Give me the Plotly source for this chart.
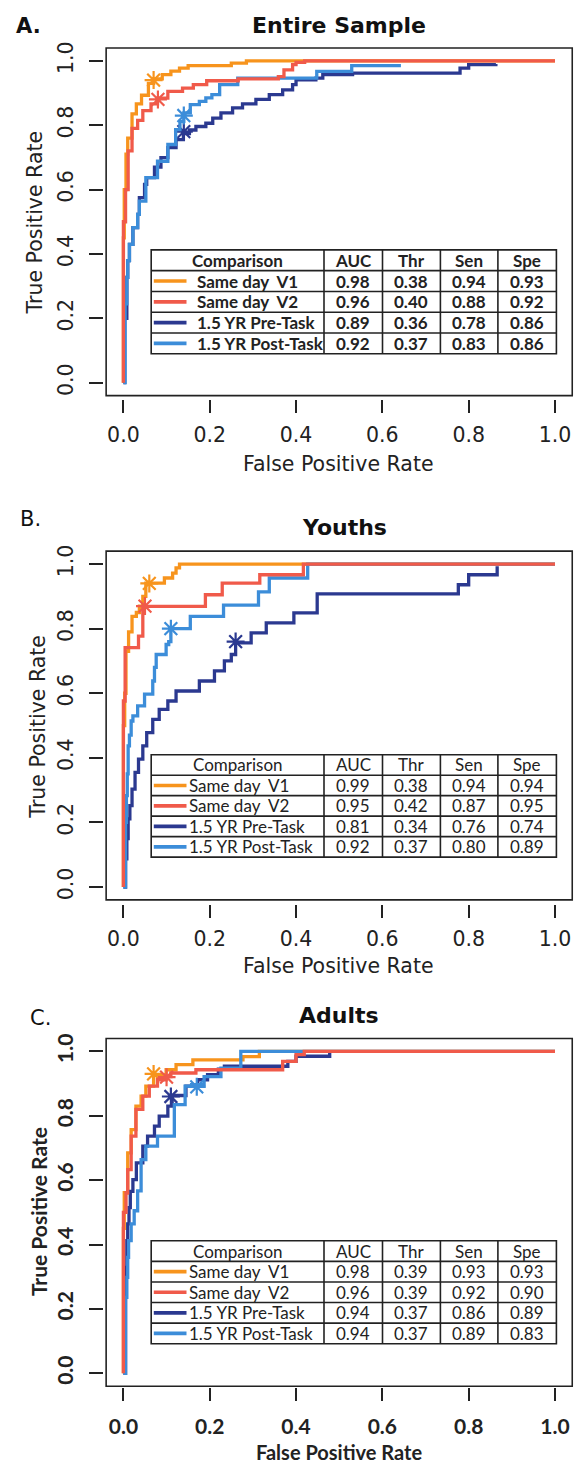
import plotly.graph_objects as go

W, H = 574, 1466

# ---------------- data ----------------
SERIES = ["Same day\u00a0 V1", "Same day\u00a0 V2", "1.5 YR Pre-Task", "1.5 YR Post-Task"]
HEADERS = ["Comparison", "AUC", "Thr", "Sen", "Spe"]
PANEL_LETTERS = ["A.", "B.", "C."]
PANEL_TITLES = ["Entire Sample", "Youths", "Adults"]
TICK_VALS = [0.0, 0.2, 0.4, 0.6, 0.8, 1.0]
TICK_TEXT = ["0.0", "0.2", "0.4", "0.6", "0.8", "1.0"]

# Panel A: Entire sample
A_V1_FPR = [0.000, 0.000, 0.002, 0.006, 0.010, 0.020, 0.030, 0.042, 0.058, 0.070, 0.090, 0.110, 0.130, 0.150, 0.250, 0.285, 1.000]
A_V1_TPR = [0.000, 0.450, 0.600, 0.710, 0.760, 0.835, 0.866, 0.893, 0.930, 0.944, 0.957, 0.968, 0.977, 0.985, 0.993, 1.000, 1.000]
A_V2_FPR = [0.000, 0.000, 0.005, 0.011, 0.020, 0.033, 0.045, 0.064, 0.079, 0.103, 0.137, 0.162, 0.193, 0.266, 0.359, 0.372, 0.392, 0.400, 0.420, 1.000]
A_V2_TPR = [0.000, 0.500, 0.600, 0.720, 0.790, 0.815, 0.845, 0.866, 0.884, 0.905, 0.915, 0.926, 0.938, 0.944, 0.951, 0.972, 0.988, 0.995, 1.000, 1.000]
A_PRE_FPR = [0.000, 0.003, 0.008, 0.010, 0.014, 0.022, 0.033, 0.037, 0.049, 0.054, 0.072, 0.087, 0.103, 0.122, 0.139, 0.153, 0.168, 0.191, 0.207, 0.226, 0.253, 0.276, 0.307, 0.338, 0.369, 0.392, 0.400, 0.446, 0.462, 0.531, 0.780, 0.800, 0.863]
A_PRE_TPR = [0.000, 0.200, 0.327, 0.379, 0.430, 0.482, 0.523, 0.575, 0.616, 0.637, 0.670, 0.699, 0.730, 0.755, 0.774, 0.785, 0.796, 0.806, 0.822, 0.838, 0.854, 0.866, 0.880, 0.895, 0.910, 0.926, 0.941, 0.946, 0.957, 0.962, 0.977, 0.988, 0.990]
A_POST_FPR = [0.000, 0.004, 0.008, 0.010, 0.014, 0.022, 0.033, 0.037, 0.052, 0.079, 0.103, 0.121, 0.131, 0.140, 0.155, 0.176, 0.191, 0.205, 0.223, 0.265, 0.448, 0.529, 0.643]
A_POST_TPR = [0.000, 0.245, 0.327, 0.379, 0.430, 0.482, 0.523, 0.564, 0.637, 0.688, 0.740, 0.786, 0.812, 0.838, 0.864, 0.874, 0.885, 0.895, 0.926, 0.946, 0.967, 0.985, 0.985]
A_AUC = [0.98, 0.96, 0.89, 0.92]
A_THR = [0.38, 0.40, 0.36, 0.37]
A_SEN = [0.94, 0.88, 0.78, 0.83]
A_SPE = [0.93, 0.92, 0.86, 0.86]

# Panel B: Youths
B_V1_FPR = [0.000, 0.000, 0.003, 0.006, 0.012, 0.020, 0.030, 0.037, 0.045, 0.052, 0.095, 0.114, 0.122, 0.130, 1.000]
B_V1_TPR = [0.000, 0.500, 0.600, 0.730, 0.790, 0.838, 0.850, 0.870, 0.900, 0.941, 0.957, 0.972, 0.988, 1.000, 1.000]
B_V2_FPR = [0.000, 0.000, 0.004, 0.035, 0.045, 0.190, 0.229, 0.316, 0.417, 1.000]
B_V2_TPR = [0.000, 0.576, 0.741, 0.777, 0.869, 0.905, 0.941, 0.967, 1.000, 1.000]
B_PRE_FPR = [0.000, 0.005, 0.008, 0.011, 0.015, 0.020, 0.027, 0.035, 0.045, 0.054, 0.068, 0.083, 0.103, 0.122, 0.176, 0.211, 0.234, 0.250, 0.260, 0.296, 0.331, 0.395, 0.449, 0.776, 0.800, 0.866]
B_PRE_TPR = [0.000, 0.087, 0.150, 0.211, 0.252, 0.303, 0.355, 0.396, 0.437, 0.478, 0.519, 0.550, 0.576, 0.607, 0.638, 0.669, 0.700, 0.720, 0.756, 0.787, 0.818, 0.849, 0.908, 0.936, 0.967, 0.993]
B_POST_FPR = [0.000, 0.005, 0.007, 0.009, 0.011, 0.014, 0.018, 0.022, 0.033, 0.049, 0.068, 0.072, 0.076, 0.099, 0.105, 0.110, 0.155, 0.232, 0.313, 0.338, 0.427, 1.000]
B_POST_TPR = [0.000, 0.200, 0.283, 0.350, 0.437, 0.470, 0.514, 0.530, 0.561, 0.597, 0.638, 0.680, 0.720, 0.751, 0.760, 0.800, 0.838, 0.873, 0.914, 0.957, 1.000, 1.000]
B_AUC = [0.99, 0.95, 0.81, 0.92]
B_THR = [0.38, 0.42, 0.34, 0.37]
B_SEN = [0.94, 0.87, 0.76, 0.80]
B_SPE = [0.94, 0.95, 0.74, 0.89]

# Panel C: Adults
C_V1_FPR = [0.000, 0.000, 0.002, 0.010, 0.018, 0.029, 0.041, 0.052, 0.070, 0.099, 0.122, 0.161, 0.277, 0.315, 1.000]
C_V1_TPR = [0.000, 0.450, 0.561, 0.685, 0.757, 0.830, 0.861, 0.892, 0.928, 0.943, 0.959, 0.974, 0.984, 1.000, 1.000]
C_V2_FPR = [0.000, 0.000, 0.006, 0.010, 0.018, 0.029, 0.045, 0.060, 0.079, 0.099, 0.110, 0.168, 0.369, 0.400, 0.419, 1.000]
C_V2_TPR = [0.000, 0.500, 0.561, 0.633, 0.737, 0.820, 0.861, 0.892, 0.912, 0.922, 0.933, 0.943, 0.969, 0.990, 1.000, 1.000]
C_PRE_FPR = [0.000, 0.005, 0.008, 0.010, 0.013, 0.016, 0.022, 0.030, 0.045, 0.056, 0.072, 0.083, 0.103, 0.113, 0.145, 0.172, 0.195, 0.220, 0.234, 0.381, 0.400, 0.478]
C_PRE_TPR = [0.000, 0.329, 0.412, 0.464, 0.515, 0.565, 0.602, 0.654, 0.706, 0.737, 0.768, 0.799, 0.830, 0.863, 0.892, 0.912, 0.928, 0.945, 0.954, 0.969, 0.985, 0.995]
C_POST_FPR = [0.000, 0.005, 0.008, 0.010, 0.012, 0.018, 0.025, 0.033, 0.041, 0.052, 0.079, 0.118, 0.143, 0.158, 0.187, 0.226, 0.272, 1.000]
C_POST_TPR = [0.000, 0.236, 0.298, 0.360, 0.412, 0.464, 0.505, 0.567, 0.664, 0.706, 0.737, 0.835, 0.892, 0.897, 0.922, 0.948, 1.000, 1.000]
C_AUC = [0.98, 0.96, 0.94, 0.94]
C_THR = [0.39, 0.39, 0.37, 0.37]
C_SEN = [0.93, 0.92, 0.86, 0.89]
C_SPE = [0.93, 0.90, 0.89, 0.83]

# ---------------- styling / layout constants ----------------
COLORS = ["#F7941D", "#F05A4A", "#2B3990", "#3C8DD9"]
DRAW_ORDER = [0, 2, 3, 1]
INK = "#222222"

CURVES = [
    [(A_V1_FPR, A_V1_TPR), (A_V2_FPR, A_V2_TPR), (A_PRE_FPR, A_PRE_TPR), (A_POST_FPR, A_POST_TPR)],
    [(B_V1_FPR, B_V1_TPR), (B_V2_FPR, B_V2_TPR), (B_PRE_FPR, B_PRE_TPR), (B_POST_FPR, B_POST_TPR)],
    [(C_V1_FPR, C_V1_TPR), (C_V2_FPR, C_V2_TPR), (C_PRE_FPR, C_PRE_TPR), (C_POST_FPR, C_POST_TPR)],
]
STATS = [
    (A_AUC, A_THR, A_SEN, A_SPE),
    (B_AUC, B_THR, B_SEN, B_SPE),
    (C_AUC, C_THR, C_SEN, C_SPE),
]

# pixel geometry
X0_PX, KX = 123.4, 431.6          # x value 0 -> pixel, pixels per unit
PLOT_L, PLOT_R = 103.5, 573.5
GEOM = [
    dict(y0=379, ky=323, top=41.5, bottom=395.0, title_y=21, letter=(28, 21), xt_title=461, yt_x=35,
         table=(245.7, 350.0), label_x=195, tick_std=5, bold_table=True, gill=False, letter_bold=True, title_x=339),
    dict(y0=885, ky=324, top=546.5, bottom=901.7, title_y=524, letter=(30, 516), xt_title=964, yt_x=38,
         table=(752.3, 855.0), label_x=187, tick_std=4, bold_table=False, gill=False, letter_bold=False, title_x=344),
    dict(y0=1373, ky=323, top=1035.5, bottom=1387.0, title_y=1014, letter=(40, 1016), xt_title=1452, yt_x=38,
         table=(1240.0, 1343.3), label_x=187, tick_std=8, bold_table=False, gill=True, letter_bold=False, title_x=339),
]
TABLE_COLS = [151.2, 324.0, 382.5, 440.4, 497.9, 556.4]


def px(x):
    return x / W


def py(y):
    return 1 - y / H


fig = go.Figure()
shapes = []
annotations = []
layout_axes = {}

for p in range(3):
    g = GEOM[p]
    sfx = "" if p == 0 else str(p + 1)
    xa, ya = "x" + sfx, "y" + sfx

    for i in DRAW_ORDER:
        fpr, tpr = CURVES[p][i]
        fig.add_trace(go.Scatter(
            x=fpr, y=tpr, mode="lines", xaxis=xa, yaxis=ya,
            line=dict(color=COLORS[i], width=3.3, shape="hv"),
            showlegend=False, hoverinfo="skip"))
        auc, thr, sen, spe = STATS[p]
        fig.add_trace(go.Scatter(
            x=[1 - spe[i]], y=[sen[i]], mode="markers", xaxis=xa, yaxis=ya,
            marker=dict(symbol="asterisk-open", size=15, color=COLORS[i],
                        line=dict(width=2.2, color=COLORS[i])),
            showlegend=False, hoverinfo="skip"))

    axis_font = dict(family="Lato", size=21, color=INK, weight="bold") if g["gill"] else \
        dict(family="DejaVu Sans", size=20.5, color=INK)
    xtitle_font = dict(family="Lato", size=20, color=INK, weight="bold") if g["gill"] else axis_font

    xr = [(PLOT_L - X0_PX) / KX, (PLOT_R - X0_PX) / KX]
    yr = [(g["y0"] - g["bottom"]) / g["ky"], (g["y0"] - g["top"]) / g["ky"]]
    layout_axes["xaxis" + sfx] = dict(
        domain=[px(PLOT_L), px(PLOT_R)], anchor=ya, range=xr,
        tickvals=TICK_VALS, ticktext=TICK_TEXT, ticks="outside", ticklen=13,
        tickwidth=1.6, tickcolor=INK, showgrid=False, zeroline=False, showline=False,
        tickfont=axis_font, ticklabelstandoff=g["tick_std"], fixedrange=True)
    layout_axes["yaxis" + sfx] = dict(
        domain=[py(g["bottom"]), py(g["top"])], anchor=xa, range=yr,
        tickvals=TICK_VALS, ticktext=TICK_TEXT, ticks="outside", ticklen=14,
        tickwidth=1.6, tickcolor=INK, showgrid=False, zeroline=False, showline=False,
        tickangle=-90, tickfont=axis_font, ticklabelstandoff=7, fixedrange=True)

    # plot box
    shapes.append(dict(type="rect", xref=xa, yref=ya, x0=-0.04, x1=1.04, y0=-0.04, y1=1.04,
                       line=dict(color=INK, width=1.6), layer="above"))

    # titles and axis titles
    annotations.append(dict(text=PANEL_TITLES[p], x=px(g["title_x"]), y=py(g["title_y"]),
                            xref="paper", yref="paper", showarrow=False, xanchor="center", yanchor="middle",
                            font=dict(family="DejaVu Sans", size=22, color="#111111", weight="bold")))
    annotations.append(dict(text=PANEL_LETTERS[p], x=px(g["letter"][0]), y=py(g["letter"][1]),
                            xref="paper", yref="paper", showarrow=False, xanchor="center", yanchor="middle",
                            font=dict(family="DejaVu Sans", size=21, color="#111111",
                                      weight="bold" if g["letter_bold"] else "normal")))
    annotations.append(dict(text="False Positive Rate", x=px(338.8), y=py(g["xt_title"]),
                            xref="paper", yref="paper", showarrow=False, xanchor="center", yanchor="middle",
                            font=xtitle_font))
    ymid = (g["top"] + g["bottom"]) / 2
    annotations.append(dict(text="True Positive Rate", x=px(g["yt_x"]), y=py(ymid), textangle=-90,
                            xref="paper", yref="paper", showarrow=False, xanchor="center", yanchor="middle",
                            font=axis_font))

    # table
    t_top, t_bot = g["table"]
    rh = (t_bot - t_top) / 5
    shapes.append(dict(type="rect", xref="paper", yref="paper",
                       x0=px(TABLE_COLS[0]), x1=px(TABLE_COLS[-1]), y0=py(t_bot), y1=py(t_top),
                       fillcolor="white", line=dict(color=INK, width=1.6), layer="above"))
    for r in range(1, 5):
        yy = py(t_top + r * rh)
        shapes.append(dict(type="line", xref="paper", yref="paper",
                           x0=px(TABLE_COLS[0]), x1=px(TABLE_COLS[-1]), y0=yy, y1=yy,
                           line=dict(color=INK, width=1.6), layer="above"))
    for c in TABLE_COLS[1:-1]:
        shapes.append(dict(type="line", xref="paper", yref="paper",
                           x0=px(c), x1=px(c), y0=py(t_bot), y1=py(t_top),
                           line=dict(color=INK, width=1.6), layer="above"))
    tfont = dict(family="Lato", size=17, color=INK, weight="bold" if g["bold_table"] else "normal")
    for j, htxt in enumerate(HEADERS):
        annotations.append(dict(text=htxt, x=px((TABLE_COLS[j] + TABLE_COLS[j + 1]) / 2),
                                y=py(t_top + rh / 2), xref="paper", yref="paper", showarrow=False,
                                xanchor="center", yanchor="middle", font=tfont))
    auc, thr, sen, spe = STATS[p]
    for i in range(4):
        yc = t_top + (i + 1.5) * rh
        shapes.append(dict(type="line", xref="paper", yref="paper",
                           x0=px(153.8), x1=px(186.5), y0=py(yc), y1=py(yc),
                           line=dict(color=COLORS[i], width=3.6), layer="above"))
        annotations.append(dict(text=SERIES[i], x=px(g["label_x"]), y=py(yc), xref="paper", yref="paper",
                                showarrow=False, xanchor="left", yanchor="middle", font=tfont))
        for j, val in enumerate([auc[i], thr[i], sen[i], spe[i]]):
            annotations.append(dict(text=f"{val:.2f}", x=px((TABLE_COLS[j + 1] + TABLE_COLS[j + 2]) / 2),
                                    y=py(yc), xref="paper", yref="paper", showarrow=False,
                                    xanchor="center", yanchor="middle", font=tfont))

fig.update_layout(
    width=W, height=H, margin=dict(l=0, r=0, t=0, b=0),
    paper_bgcolor="white", plot_bgcolor="white",
    shapes=shapes, annotations=annotations, showlegend=False,
    **layout_axes,
)

fig.write_html("out.html", config={"displayModeBar": False},
               post_script="document.body.style.margin='0';document.body.style.overflow='hidden';")
